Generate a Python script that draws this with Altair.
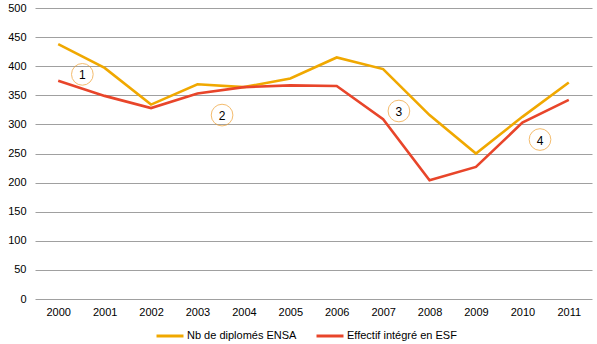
import altair as alt
import pandas as pd

years = list(range(2000, 2012))
diplomes_ensa = [438, 397, 334, 369, 364, 379, 415, 395, 316, 250, 313, 372]
effectif_esf = [375, 349, 328, 353, 364, 367, 366, 309, 204, 227, 303, 342]
series_names = ["Nb de diplomés ENSA", "Effectif intégré en ESF"]
series_colors = ["#F0A800", "#E8452A"]
y_ticks = [0, 50, 100, 150, 200, 250, 300, 350, 400, 450, 500]

note_labels = ["1", "2", "3", "4"]
note_x = [2000.52, 2003.53, 2007.34, 2010.38]
note_y = [386, 316, 323, 274]

rows = []
for y, a, b in zip(years, diplomes_ensa, effectif_esf):
    rows.append({"year": y, "value": a, "series": series_names[0]})
    rows.append({"year": y, "value": b, "series": series_names[1]})
df = pd.DataFrame(rows)
notes = pd.DataFrame({"x": note_x, "y": note_y, "label": note_labels})

xscale = alt.Scale(domain=[1999.5, 2011.5], nice=False, zero=False)
yscale = alt.Scale(domain=[0, 500], nice=False)

xaxis = alt.Axis(values=years, format="d", title=None, grid=False,
                 ticks=False, domain=False, labelPadding=7,
                 labelFontSize=11, labelColor="#000000",
                 labelFont="Liberation Sans", labelOverlap=False)
yaxis = alt.Axis(values=y_ticks, title=None,
                 ticks=False, domain=False, labelPadding=9,
                 labelFontSize=11, labelColor="#000000",
                 labelFont="Liberation Sans", labelOverlap=False,
                 gridColor="#a0a0a0", gridWidth=1, gridOpacity=1)

lines = alt.Chart(df).mark_line(strokeWidth=2.6).encode(
    x=alt.X("year:Q", scale=xscale, axis=xaxis),
    y=alt.Y("value:Q", scale=yscale, axis=yaxis),
    color=alt.Color("series:N",
                    scale=alt.Scale(domain=series_names, range=series_colors),
                    legend=alt.Legend(title=None, orient="none", direction="horizontal",
                                      legendX=120, legendY=313,
                                      symbolType="stroke", symbolSize=729,
                                      symbolStrokeWidth=3, labelFontSize=11,
                                      labelFont="Liberation Sans",
                                      labelColor="#000000",
                                      labelOffset=2, columnPadding=13)),
)

circles = alt.Chart(notes).mark_point(shape="circle", size=470, filled=False,
                                      stroke="#F0A030", strokeWidth=1).encode(
    x=alt.X("x:Q", scale=xscale, axis=xaxis),
    y=alt.Y("y:Q", scale=yscale, axis=yaxis),
)

texts = alt.Chart(notes).mark_text(fontSize=12, font="Liberation Sans",
                                   color="#000000", baseline="middle",
                                   align="center", dy=1).encode(
    x=alt.X("x:Q", scale=xscale, axis=xaxis),
    y=alt.Y("y:Q", scale=yscale, axis=yaxis),
    text="label:N",
)

chart = alt.layer(lines, circles, texts).properties(
    width=557, height=291,
    autosize=alt.AutoSizeParams(type="none"),
    padding={"left": 35, "top": 8, "right": 5, "bottom": 45},
    background="#ffffff",
).configure_view(stroke=None)

chart.save("out.html", embed_options={"renderer": "svg", "actions": False})
